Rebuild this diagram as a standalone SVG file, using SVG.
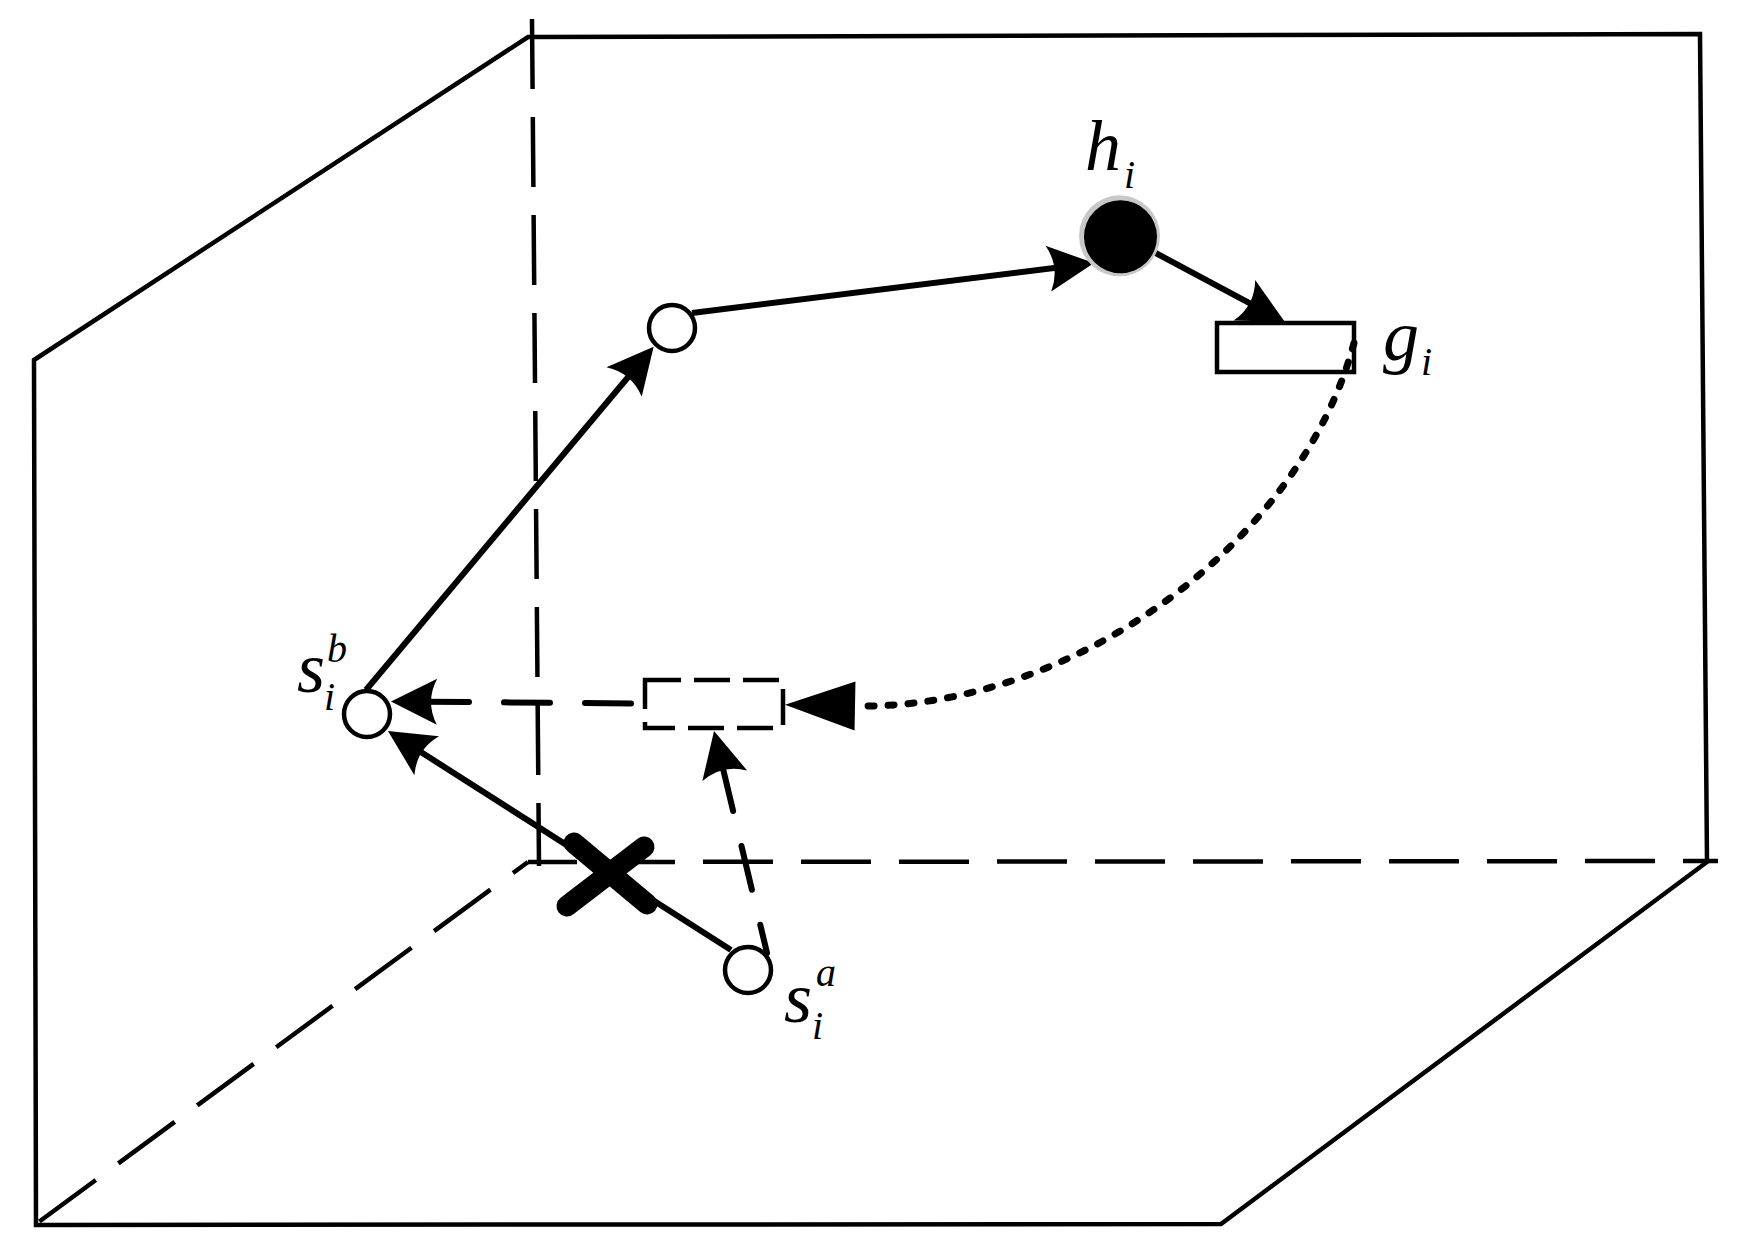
<svg xmlns="http://www.w3.org/2000/svg" width="1740" height="1245" viewBox="0 0 1740 1245">
<style>
.frame{fill:none;stroke:#000;stroke-width:4.5;stroke-linejoin:miter}
.hid{fill:none;stroke:#000;stroke-width:4.5;stroke-dasharray:70 28}
.conn{fill:none;stroke:#000;stroke-width:6}
.dconn{fill:none;stroke:#000;stroke-width:6;stroke-linecap:round}
.dot{fill:none;stroke:#000;stroke-width:7;stroke-linecap:round;stroke-dasharray:6 14}
.node{fill:#fff;stroke:#000;stroke-width:4.5}
.lbl{font-family:"Liberation Serif","Times New Roman",serif;font-style:italic;font-size:72px;fill:#000}
.sc{font-family:"Liberation Serif","Times New Roman",serif;font-style:italic;font-size:40px;fill:#000}
</style>
<defs>
<marker id="stealth" markerUnits="userSpaceOnUse" viewBox="0 0 46 46" markerWidth="46" markerHeight="46" refX="38" refY="23" orient="auto" overflow="visible">
<path d="M0,0 L46,23 L0,46 Q12,23 0,0 Z" fill="#000" stroke="none"/>
</marker>
<marker id="tri" markerUnits="userSpaceOnUse" viewBox="0 0 70 49" markerWidth="70" markerHeight="49" refX="0" refY="24.5" orient="auto" overflow="visible">
<path d="M0,0 L70,24.5 L0,49 Z" fill="#000" stroke="none"/>
</marker>
</defs>
<rect width="1740" height="1245" fill="#fff"/>
<g id="frame">
<polygon class="frame" points="34,360 528,37 1700,34 1707,862 1221,1224 36,1225"/>
<path class="hid" d="M532,19 L539,866" stroke-dasharray="65 33"/>
<path class="hid" d="M528,862 L1718,861" stroke-dashoffset="21"/>
<path class="hid" d="M528,862 L36,1224" stroke-dashoffset="51.4"/>
</g>
<g id="connectors">
<path class="conn" d="M731,950 L394.7,735.3" marker-end="url(#stealth)"/>
<path class="conn" d="M366,690 L648.5,352.8" marker-end="url(#stealth)"/>
<path class="conn" d="M692,313 L1086.1,264" marker-end="url(#stealth)"/>
<path class="conn" d="M1150,250 L1277.9,318.2" marker-end="url(#stealth)"/>
<path class="dconn" d="M644,703.5 L399,701.5" stroke-dasharray="46 35" stroke-dashoffset="68" marker-end="url(#stealth)"/>
<path class="dconn" d="M767,953 L715.9,738.8" stroke-dasharray="45 36" stroke-dashoffset="16" marker-end="url(#stealth)"/>
</g>
<g id="blocked">
<line x1="567" y1="906" x2="644" y2="847" stroke="#000" stroke-width="21" stroke-linecap="round"/>
<line x1="574" y1="843" x2="647" y2="904" stroke="#000" stroke-width="21" stroke-linecap="round"/>
</g>
<g id="node-sb">
<circle class="node" cx="367" cy="714" r="23"/>
<text class="lbl" x="297" y="692">s</text>
<text class="sc" x="327" y="662">b</text>
<text class="sc" x="324" y="710">i</text>
</g>
<g id="node-sa">
<circle class="node" cx="748" cy="970" r="23"/>
<text class="lbl" x="784" y="1022">s</text>
<text class="sc" x="816" y="986">a</text>
<text class="sc" x="812" y="1039">i</text>
</g>
<g id="node-mid">
<circle class="node" cx="672" cy="328" r="23"/>
</g>
<g id="node-h">
<circle cx="1119.5" cy="235.8" r="40.5" fill="#c8c8c8"/>
<circle cx="1120.5" cy="236.7" r="36.5" fill="#000"/>
<text class="lbl" x="1085" y="170">h</text>
<text class="sc" x="1124" y="188">i</text>
</g>
<g id="node-g">
<rect class="node" x="1217" y="323" width="137" height="49"/>
<text class="lbl" x="1383" y="360">g</text>
<text class="sc" x="1421" y="375">i</text>
</g>
<g id="node-gcopy">
<rect class="node" x="645" y="680" width="138" height="48" stroke-dasharray="36 13"/>
</g>
<g id="connector-return">
<path class="dot" d="M1354,343 C1300,545 1070,710 855,706" marker-end="url(#tri)"/>
</g>
</svg>
